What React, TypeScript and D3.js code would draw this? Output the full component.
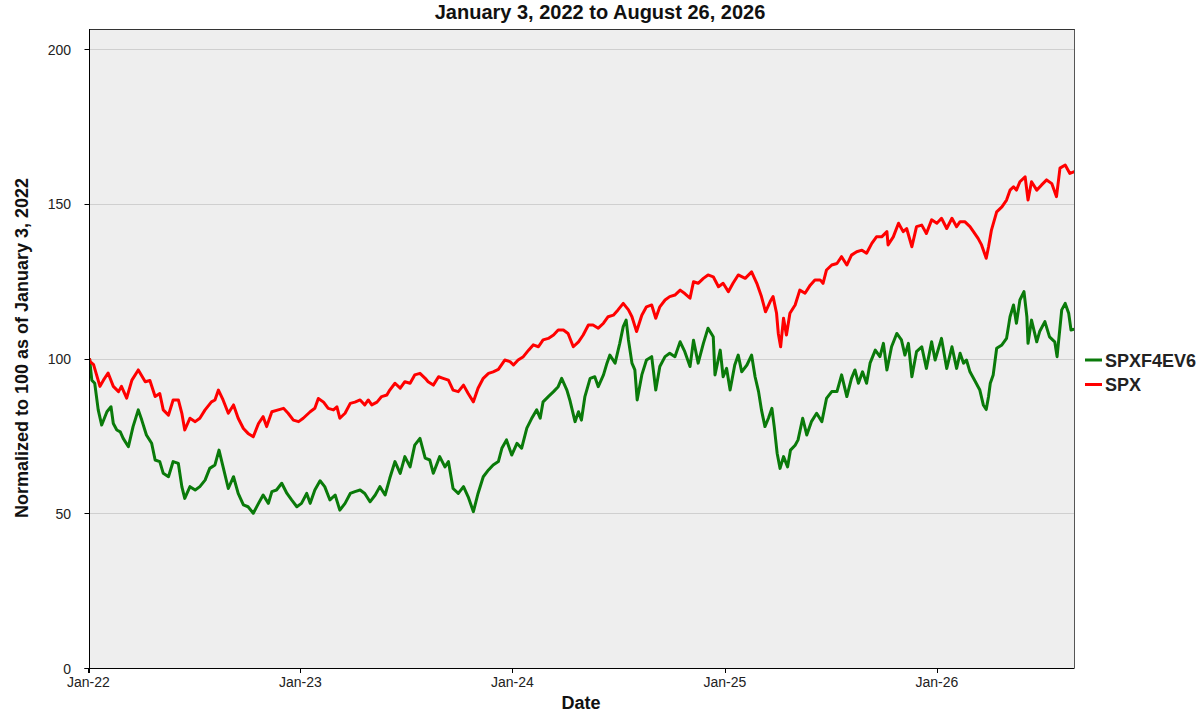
import React from "react";
import * as d3 from "d3";

// Calendar-day offsets from January 3, 2022 and normalized values
const spxDays = [0,1,7,18,24,32,41,50,55,64,73,84,96,104,113,121,127,136,144,153,159,164,173,182,190,199,210,216,222,230,239,248,256,265,273,282,291,299,305,314,325,334,342,351,360,368,380,388,394,403,411,420,426,431,440,449,457,466,474,480,486,495,503,512,517,526,535,543,552,560,569,578,583,592,601,609,618,626,635,644,652,661,669,678,687,695,704,715,724,730,738,747,756,764,773,781,790,799,807,816,824,833,842,850,859,867,876,885,893,902,910,919,928,934,942,951,959,968,975,982,991,999,1008,1017,1025,1034,1040,1048,1057,1065,1074,1083,1091,1100,1108,1117,1129,1140,1149,1157,1164,1172,1177,1183,1186,1190,1195,1200,1206,1215,1223,1232,1241,1249,1258,1263,1269,1278,1287,1295,1304,1312,1321,1330,1338,1347,1355,1364,1373,1375,1384,1393,1401,1407,1416,1424,1433,1441,1450,1459,1467,1476,1485,1493,1499,1507,1516,1522,1530,1536,1544,1548,1553,1562,1571,1579,1585,1591,1596,1602,1611,1616,1622,1631,1639,1648,1657,1665,1671,1680,1688,1696];
const spxValues = [100,99,98,91,93,95.3,91,89.3,91,87.2,93,96.3,92.5,92.9,87.7,88.7,83.4,81.7,86.6,86.6,82.3,76.9,80.7,79.6,80.7,83.4,86,86.6,89.8,86.6,82.3,85,80.7,77.4,75.8,74.7,79,81.2,78,82.8,83.4,83.9,82.3,80.1,79.6,80.7,82.8,83.9,87.1,85.9,83.9,83.4,84.4,80.7,82.3,85.5,85.9,86.6,85,86.6,85,85.9,87.7,88.2,89.8,92,90.4,92.5,92,94.7,95.2,93.6,92.5,91.4,94.1,93.6,93,89.8,89.3,91.4,88.7,86,90.4,93.6,95.2,95.7,96.5,99.5,99,97.9,99.5,100.6,102.7,104.4,103.8,106,106.5,107.6,109.2,109.2,108.1,103.8,105.4,107.6,110.8,110.8,109.8,111.4,113.5,114,115.7,117.8,115.7,113.5,108.7,114,116.7,117.3,113,116.7,118.9,120,120.5,122.1,121,119.5,124.8,124.3,125.9,127,126.4,123.2,124.3,121.6,124.3,127,125.9,128,124.3,120,115.1,118.4,120,114.6,108.1,103.8,113,107.6,114.6,117.3,122.1,121.1,123.7,125.4,125.4,124.3,128.6,130.2,130.7,132.9,130.2,133.4,134.5,135,134,137.2,139.3,139.3,141,136.7,139.3,143.7,141,142,136.1,142.6,143.1,140.4,144.8,143.7,145.3,142,145.3,142.6,144.2,144.2,142.6,141,138.8,136.7,132.4,136.1,141.5,147.4,149,151.2,154.4,155.5,154.4,157.1,158.7,151.2,157.1,154.4,156,157.7,156.5,152.3,161.5,162.5,159.8,160.4];

const fundDays = [0,4,9,15,21,30,37,41,47,53,58,67,75,84,90,98,107,113,121,127,136,144,153,159,164,173,182,190,199,207,216,223,230,239,248,256,265,273,282,291,299,308,314,322,331,340,348,357,365,374,380,388,397,405,414,423,431,440,449,457,466,474,483,492,500,509,517,526,535,543,552,560,569,578,586,592,603,612,618,626,635,644,652,661,669,678,687,695,704,710,718,727,736,744,753,761,770,776,781,790,799,807,813,822,827,836,842,847,853,862,870,876,885,891,896,905,913,919,924,928,934,939,943,951,959,968,975,982,991,999,1008,1017,1025,1034,1040,1048,1057,1065,1074,1077,1086,1091,1097,1103,1111,1117,1123,1132,1140,1146,1152,1157,1163,1169,1175,1179,1184,1189,1195,1202,1207,1215,1220,1228,1235,1243,1252,1261,1269,1278,1287,1295,1304,1312,1318,1324,1331,1338,1344,1353,1361,1367,1373,1381,1390,1398,1404,1410,1416,1424,1433,1441,1450,1456,1467,1476,1485,1493,1499,1505,1510,1516,1524,1533,1539,1544,1548,1551,1556,1562,1571,1579,1585,1591,1596,1602,1609,1614,1616,1622,1631,1636,1645,1653,1662,1666,1674,1680,1686,1690,1696];
const fundValues = [100,93,92,83.4,78.5,82.8,84.4,79,76.9,76.3,74.2,71.5,78,83.4,80.1,75.3,72.6,67.2,66.7,62.9,61.8,66.7,66.1,58.6,54.8,58.6,57.5,58.6,60.7,64.5,65.6,70.4,65,58,61.8,56.4,52.7,52.1,50,53.2,55.9,53.2,57,57.5,59.7,56.4,54.3,52.1,53.2,56.4,53.2,57.5,60.5,58.6,54.3,55.9,51,53.2,56.4,57,57.5,56.4,53.7,55.9,58.6,55.9,61.3,66.7,62.9,68.3,65,72,74.2,67.8,67.2,62.9,68.3,65,66.7,58,56.4,58.6,55.3,50.5,56.4,61.8,64,65.6,66.7,71,73.7,68.8,72.6,71,77.5,80.5,83.4,80.7,86,87.7,89.3,90.9,93.6,89.8,86.6,79.6,82.8,80.1,87.7,93.6,94.1,90.9,94.7,98.5,101.1,98.5,104.9,110.3,112.4,106,98.5,96.3,86.6,94.7,99.5,100.6,89.8,97.4,100.6,101.7,100.6,105.4,102.2,97.4,105.9,98.5,104.9,109.8,107,94.7,102.7,94.1,96.8,89.8,97.9,101.1,95.7,97.9,101.1,94.1,89.3,83.4,78,80.7,83.9,78,69.4,64.5,68.3,65,70.4,72,73.7,80.7,75.3,79.6,82.3,79.6,87.1,89.3,89.3,94.7,87.7,93.6,96.3,92,95.7,92,98.5,102.7,100.6,104.9,96.3,103.8,108.1,106,101.1,104.9,94.1,102.2,103.8,96.8,105.4,99.5,106.5,96.8,103.8,96.8,101.7,98.5,99.5,95.7,93,89.8,85,83.5,87.7,92,94.7,103.3,104.4,106.5,113.5,117.3,111.4,118.9,121.6,113.5,104.9,112.4,105.4,108.7,111.9,107,105.4,100.6,115.7,117.8,114.6,109.2,109.5];

const seriesNames = ["SPXF4EV6", "SPX"];
const seriesColors = ["#0a7a0a", "#ff0000"];
const yTicks = [0, 50, 100, 150, 200];
const titleText = "January 3, 2022 to August 26, 2026";
const yLabel = "Normalized to 100 as of January 3, 2022";
const xLabel = "Date";

const FONT = "'Liberation Sans', Arial, sans-serif";

export default function App() {
  const W = 1200, H = 720;
  const left = 89.5, right = 1074.5, top = 29, bottom = 668;
  const start = new Date(2022, 0, 3);
  const end = new Date(2026, 7, 26);
  const x = d3.scaleTime().domain([start, end]).range([left, right]);
  const y = d3.scaleLinear().domain([0, 200]).range([bottom, 49]);
  const xTicks = d3.timeYear.range(new Date(2022, 0, 1), new Date(2026, 1, 1));
  const fmt = d3.timeFormat("%b-%y");

  const mk = (days: number[], vals: number[]) =>
    days.map((d, i) => ({ date: d3.timeDay.offset(start, d), v: vals[i] }));
  const series = [mk(fundDays, fundValues), mk(spxDays, spxValues)];
  const line = d3
    .line<{ date: Date; v: number }>()
    .x((d) => x(d.date))
    .y((d) => y(d.v));

  return (
    <svg
      width={W}
      height={H}
      style={{ position: "fixed", left: 0, top: 0, background: "#fff" }}
      fontFamily={FONT}
    >
      <rect x={left} y={top} width={right - left} height={bottom - top} fill="#eeeeee" />
      {yTicks.filter((t) => t > 0).map((t) => (
        <line key={t} x1={left} x2={right} y1={Math.round(y(t)) + 0.5} y2={Math.round(y(t)) + 0.5} stroke="#cfcfcf" strokeWidth={1} />
      ))}
      <g clipPath="url(#clip)">
        <clipPath id="clip">
          <rect x={left} y={top} width={right - left} height={bottom - top} />
        </clipPath>
        {series.map((s, i) => (
          <path key={i} d={line(s) || ""} fill="none" stroke={seriesColors[i]} strokeWidth={3} strokeLinejoin="round" />
        ))}
      </g>
      {/* frame */}
      <line x1={right} x2={right} y1={top} y2={bottom} stroke="#555" />
      <line x1={left} x2={right} y1={top + 0.5} y2={top + 0.5} stroke="#333" />
      <line x1={left} x2={left} y1={top} y2={bottom + 5} stroke="#000" />
      <line x1={left - 5} x2={right} y1={bottom + 0.5} y2={bottom + 0.5} stroke="#000" />
      {yTicks.map((t) => (
        <g key={t}>
          <line x1={left - 5} x2={left} y1={Math.round(y(t)) + 0.5} y2={Math.round(y(t)) + 0.5} stroke="#000" />
          <text x={71} y={y(t) + 5.5} textAnchor="end" fontSize={14} fill="#222">{t}</text>
        </g>
      ))}
      {xTicks.map((t) => (
        <g key={+t}>
          <line x1={Math.round(x(t)) + 0.5} x2={Math.round(x(t)) + 0.5} y1={bottom} y2={bottom + 5} stroke="#000" />
          <text x={x(t)} y={686.5} textAnchor="middle" fontSize={14} fill="#222">{fmt(t)}</text>
        </g>
      ))}
      <text x={600} y={19} textAnchor="middle" fontSize={20} fontWeight="bold" fill="#111">{titleText}</text>
      <text x={581} y={709} textAnchor="middle" fontSize={18} fontWeight="bold" fill="#111">{xLabel}</text>
      <text transform={`translate(28,348) rotate(-90)`} textAnchor="middle" fontSize={18} fontWeight="bold" fill="#111">{yLabel}</text>
      {seriesNames.map((n, i) => (
        <g key={n}>
          <line x1={1085} x2={1102} y1={360 + i * 24.5} y2={360 + i * 24.5} stroke={seriesColors[i]} strokeWidth={3} />
          <text x={1105} y={366.5 + i * 24.5} fontSize={18} fontWeight="bold" fill="#222">{n}</text>
        </g>
      ))}
    </svg>
  );
}
